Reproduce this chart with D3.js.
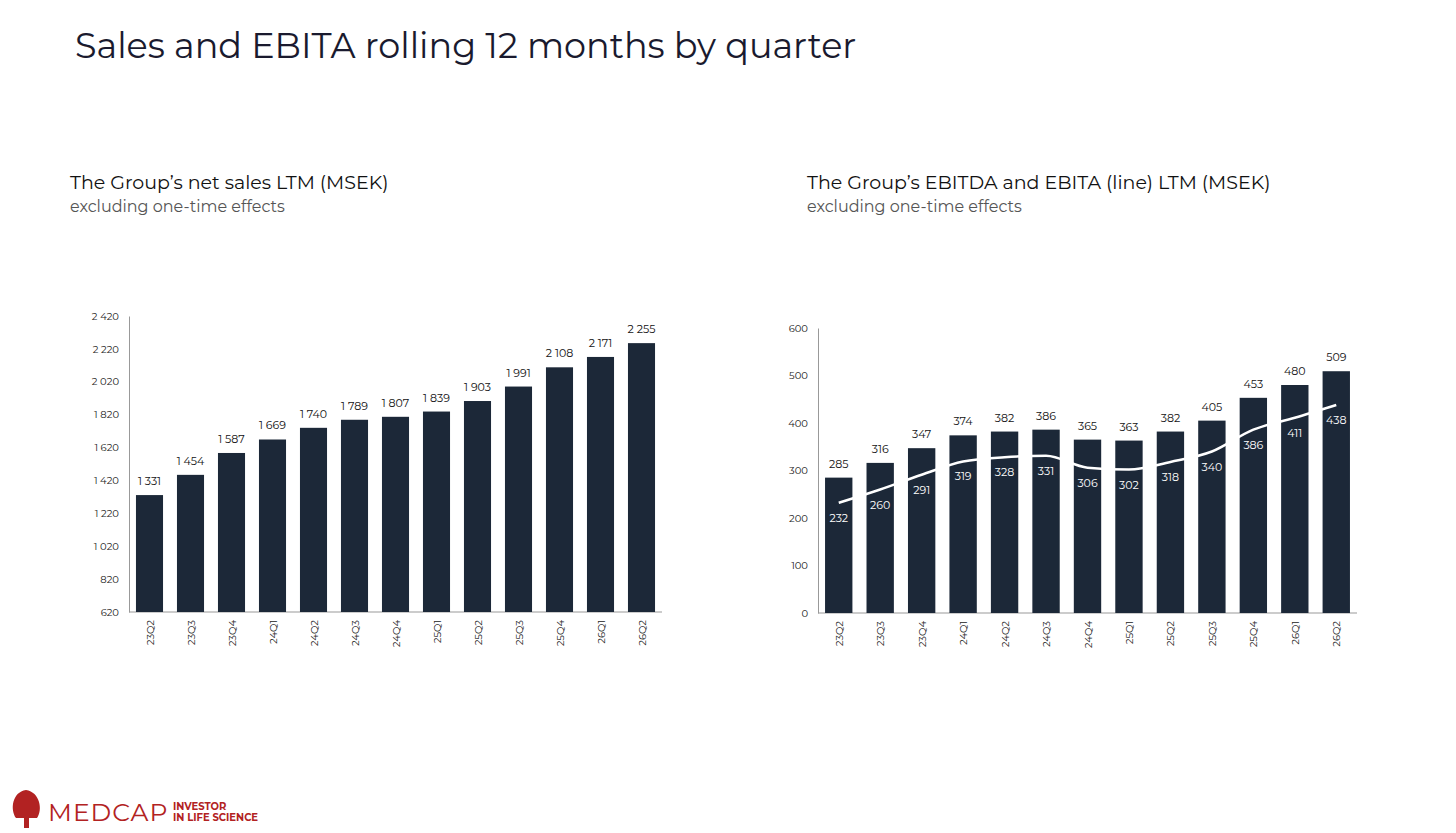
<!DOCTYPE html>
<html><head><meta charset="utf-8">
<script src="https://cdn.jsdelivr.net/npm/d3@7"></script>
<style>
body{margin:0;background:#fff;font-family:Montserrat,"Open Sans",sans-serif}
</style></head><body>
<svg id="c" width="1456" height="833"></svg>
<script>
const quarters = ["23Q2","23Q3","23Q4","24Q1","24Q2","24Q3","24Q4","25Q1","25Q2","25Q3","25Q4","26Q1","26Q2"];
const sales = [1331,1454,1587,1669,1740,1789,1807,1839,1903,1991,2108,2171,2255];
const ebitda = [285,316,347,374,382,386,365,363,382,405,453,480,509];
const ebita = [232,260,291,319,328,331,306,302,318,340,386,411,438];
const salesTicks = [620,820,1020,1220,1420,1620,1820,2020,2220,2420];
const ebitdaTicks = [0,100,200,300,400,500,600];

const navy = "#1c2838";
const svg = d3.select("#c");
const fmt = v => { const s = String(v); return s.length > 3 ? s.slice(0, s.length-3) + " " + s.slice(-3) : s; };

svg.append("text").attr("x", 75).attr("y", 58).attr("font-size", 35).attr("fill", "#1a1a2e")
  .text("Sales and EBITA rolling 12 months by quarter");

function titles(x, t) {
  svg.append("text").attr("x", x).attr("y", 189).attr("font-size", 19).attr("fill", "#111").text(t);
  svg.append("text").attr("x", x).attr("y", 212).attr("font-size", 16).attr("fill", "#555").text("excluding one-time effects");
}
titles(70, "The Group’s net sales LTM (MSEK)");
titles(807, "The Group’s EBITDA and EBITA (line) LTM (MSEK)");

function chart(x0, x1, yTop, yBot, domain, ticks, vals, fmtFn) {
  const g = svg.append("g");
  const x = d3.scaleBand().domain(quarters).range([x0, x1]).paddingInner(0.34).paddingOuter(0.17);
  const y = d3.scaleLinear().domain(domain).range([yBot, yTop]);
  const ax = g.append("g").attr("transform", `translate(${x0},0)`)
    .call(d3.axisLeft(y).tickValues(ticks).tickSize(0).tickPadding(10).tickFormat(fmtFn));
  ax.select(".domain").attr("stroke", "#999");
  ax.selectAll("text").attr("font-size", 10).attr("fill", "#222").attr("font-family", "Montserrat,'Open Sans',sans-serif");
  g.append("line").attr("x1", x0).attr("x2", x1).attr("y1", yBot).attr("y2", yBot).attr("stroke", "#999");
  g.selectAll("rect").data(vals).enter().append("rect")
    .attr("x", (d, i) => x(quarters[i])).attr("width", x.bandwidth())
    .attr("y", d => y(d)).attr("height", d => yBot - y(d)).attr("fill", navy);
  g.selectAll(".lbl").data(vals).enter().append("text")
    .attr("x", (d, i) => x(quarters[i]) + x.bandwidth()/2).attr("y", d => y(d) - 10)
    .attr("text-anchor", "middle").attr("font-size", 11).attr("fill", "#111").text(fmtFn);
  g.selectAll(".q").data(quarters).enter().append("text")
    .attr("transform", d => `translate(${x(d) + x.bandwidth()/2 + 4},${yBot + 8}) rotate(-90)`)
    .attr("text-anchor", "end").attr("font-size", 10).attr("fill", "#222").text(d => d);
  return {x, y, g};
}

chart(129, 662, 316, 612, [620, 2420], salesTicks, sales, fmt);
const r = chart(818, 1357, 328, 613, [0, 600], ebitdaTicks, ebitda, d => d);

const line = d3.line().curve(d3.curveMonotoneX)
  .x((d, i) => r.x(quarters[i]) + r.x.bandwidth()/2).y(d => r.y(d));
r.g.append("path").datum(ebita).attr("d", line).attr("fill", "none").attr("stroke", "#fff").attr("stroke-width", 2.5);
r.g.selectAll(".el").data(ebita).enter().append("text")
  .attr("x", (d, i) => r.x(quarters[i]) + r.x.bandwidth()/2).attr("y", d => r.y(d) + 19)
  .attr("text-anchor", "middle").attr("font-size", 11).attr("fill", "#fff").text(d => d);

// logo
const logo = svg.append("g").attr("transform", "translate(8,788)");
logo.append("path").attr("d", "M18 2 C4 4 2 22 8 30 L16 30 L16 40 L21 40 L21 30 L29 30 C35 22 32 4 18 2 Z").attr("fill", "#b22222");
logo.append("text").attr("x", 40).attr("y", 33).attr("font-size", 25).attr("fill", "#b22222").attr("letter-spacing", 1).text("MEDCAP");
logo.append("text").attr("x", 165).attr("y", 22).attr("font-size", 10).attr("font-weight", "bold").attr("fill", "#b22222").text("INVESTOR");
logo.append("text").attr("x", 165).attr("y", 33).attr("font-size", 10).attr("font-weight", "bold").attr("fill", "#b22222").text("IN LIFE SCIENCE");
</script>
</body></html>
